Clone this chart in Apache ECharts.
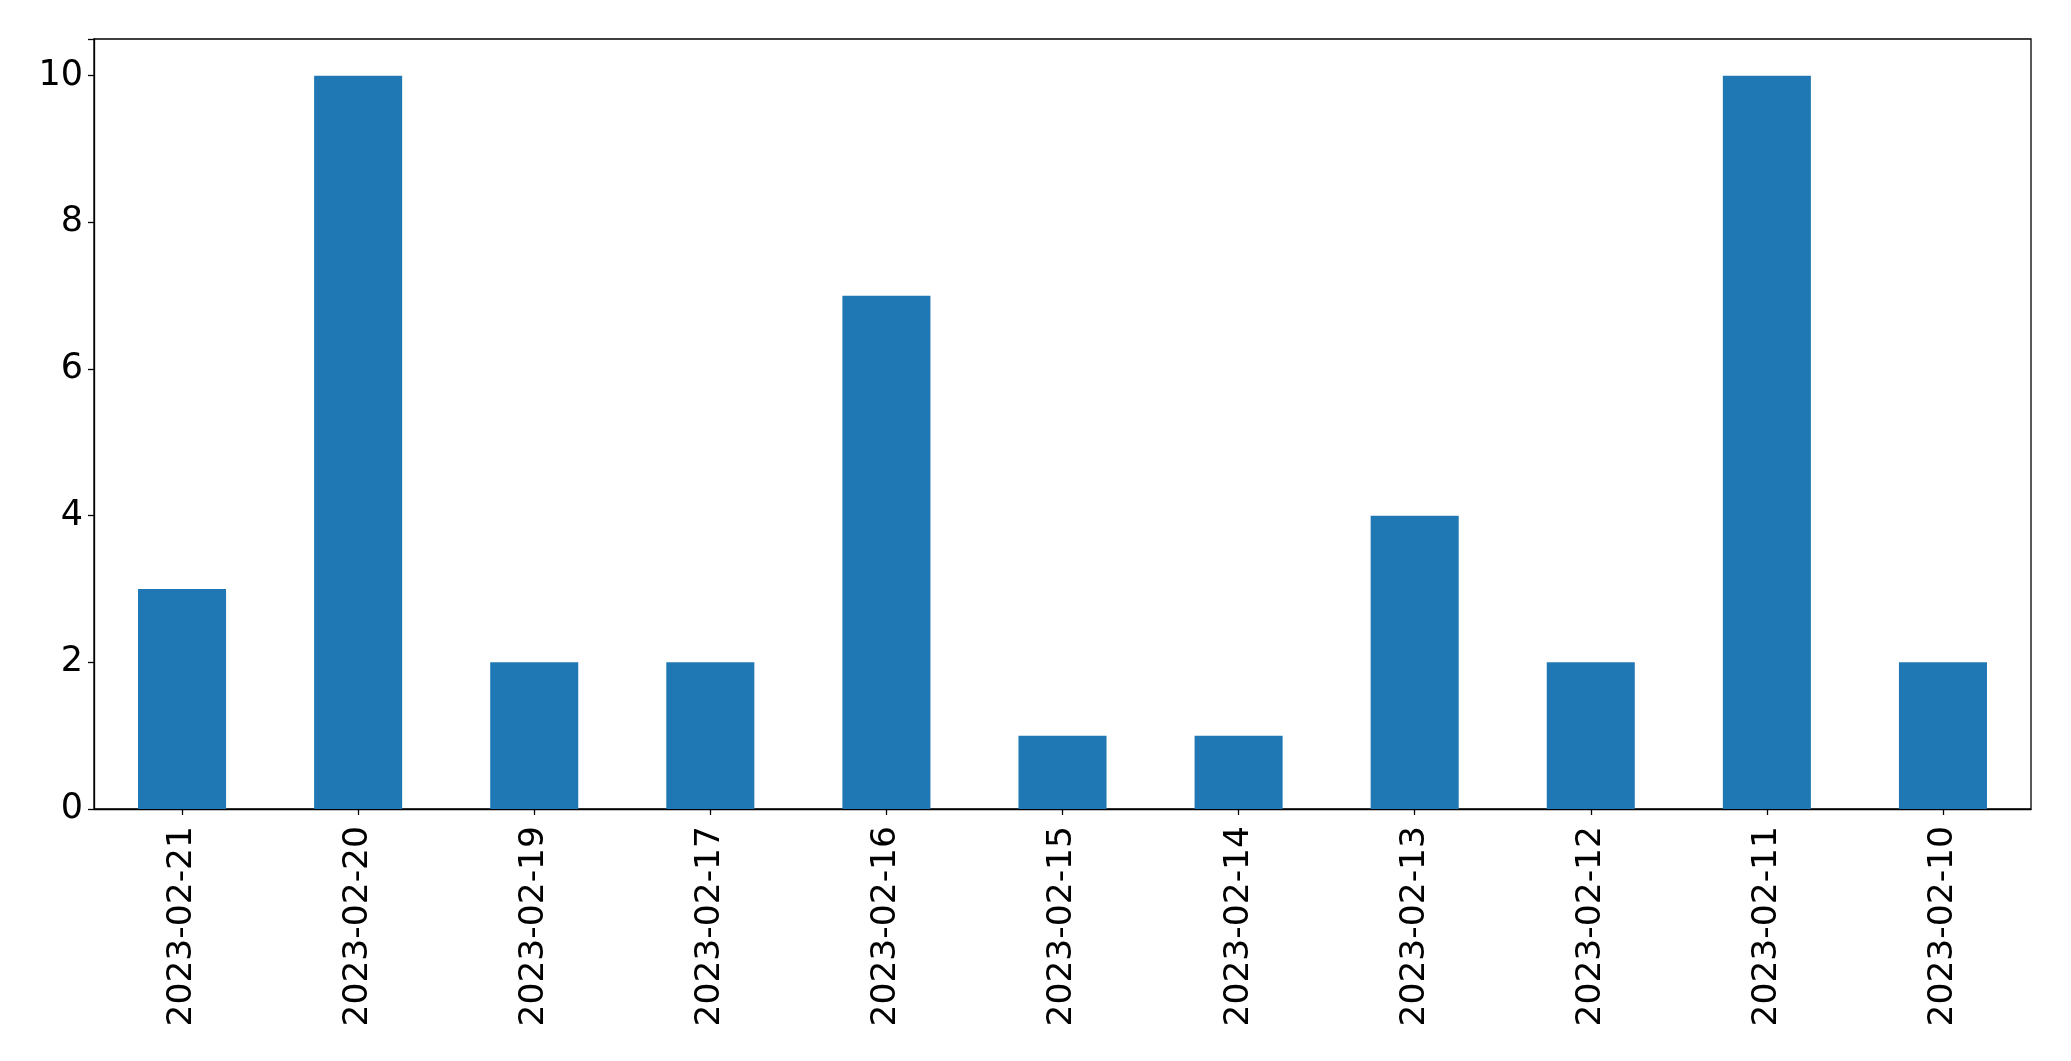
<!DOCTYPE html>
<html>
<head>
<meta charset="utf-8">
<script src="https://cdn.jsdelivr.net/npm/echarts@6/dist/echarts.min.js"></script>
<style>html,body{margin:0;padding:0;background:#fff;}#c{width:2071px;height:1061px;}</style>
</head>
<body>
<div id="c"></div>
<script>
const categories = ["2023-02-21","2023-02-20","2023-02-19","2023-02-17","2023-02-16","2023-02-15","2023-02-14","2023-02-13","2023-02-12","2023-02-11","2023-02-10"];
const values = [3, 10, 2, 2, 7, 1, 1, 4, 2, 10, 2];
const yTicks = [0, 2, 4, 6, 8, 10];

const chart = echarts.init(document.getElementById('c'), null, {renderer: 'canvas'});
chart.setOption({
  animation: false,
  backgroundColor: '#fff',
  grid: {left: 94, right: 40, top: 39, bottom: 252, show: true, borderColor: '#000', borderWidth: 1.3, backgroundColor: 'transparent'},
  xAxis: {
    type: 'category',
    data: categories,
    axisLine: {show: true, lineStyle: {color: '#000', width: 1.3}},
    axisTick: {show: true, alignWithLabel: true, length: 6, lineStyle: {color: '#000', width: 1.3}},
    axisLabel: {rotate: 90, margin: 17, fontSize: 34.5, color: '#000', fontFamily: 'DejaVu Sans', interval: 0},
    splitLine: {show: false}
  },
  yAxis: {
    type: 'value',
    min: 0, max: 10.5, interval: 2,
    axisLine: {show: true, lineStyle: {color: '#000', width: 1.3}},
    axisTick: {show: true, length: 6, lineStyle: {color: '#000', width: 1.3}},
    axisLabel: {margin: 11, fontSize: 35, color: '#000', fontFamily: 'DejaVu Sans',
      formatter: v => yTicks.includes(v) ? String(v) : ''},
    splitLine: {show: false}
  },
  series: [{
    type: 'bar',
    data: values,
    barWidth: '50%',
    itemStyle: {color: '#1f77b4'}
  }]
});
</script>
</body>
</html>
